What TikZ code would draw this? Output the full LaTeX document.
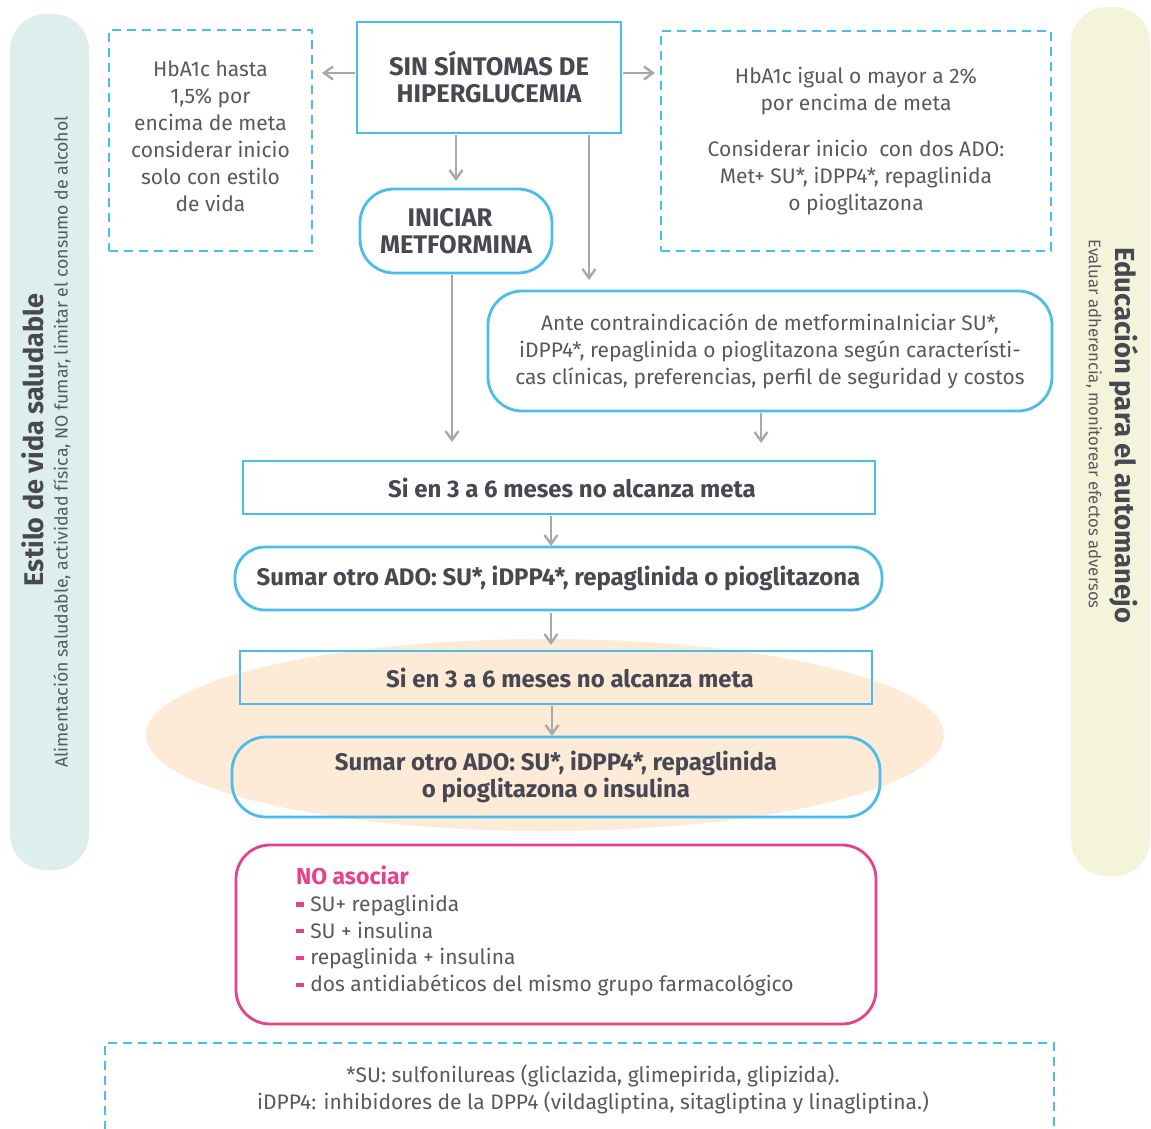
\documentclass[tikz,border=0pt]{standalone}
\usepackage{fontspec}
\setmainfont{Fira Sans}
\usetikzlibrary{arrows.meta,calc}
\definecolor{blu}{HTML}{4BBDEB}
\definecolor{gry}{HTML}{A8A8A8}
\definecolor{teal}{HTML}{DDEEEC}
\definecolor{yel}{HTML}{F4F4DA}
\definecolor{peach}{HTML}{FDEAD7}
\definecolor{pnk}{HTML}{E8418B}
\definecolor{txt}{HTML}{58585F}
\definecolor{txtd}{HTML}{484853}
\begin{document}
\begin{tikzpicture}[x=1pt,y=-1pt,
  every node/.style={inner sep=0pt,outer sep=0pt},
  solidbox/.style={draw=blu,line width=2.8pt},
  roundbox/.style={draw=blu,line width=2.8pt,rounded corners=34pt},
  dashbox/.style={draw=blu,line width=2.6pt,dash pattern=on 9pt off 6pt},
  arr/.style={draw=gry,line width=2.4pt,-{Straight Barb[length=9pt,width=13pt,line width=2.4pt]}},
  body/.style={font=\fontsize{21}{27}\selectfont,text=txt,align=center},
  head/.style={font=\bfseries\fontsize{24}{27}\selectfont,text=txtd,align=center},
  bighead/.style={font=\bfseries\fontsize{25.5}{27}\selectfont,text=txtd,align=center},
  bar/.style={rounded corners=36pt,minimum width=79pt}
]
\useasboundingbox (0,0) rectangle (1151,1129);
% side bars
\node[bar,fill=teal,minimum height=856pt] (lbar) at (49.5,442) {};
\node[bar,fill=yel,minimum height=869pt] (rbar) at (1110.5,441.5) {};
\node[rotate=90,font=\bfseries\fontsize{27}{30}\selectfont,text=txtd] (ltitle) at (33,440) {Estilo de vida saludable};
\node[rotate=90,font=\fontsize{17.7}{20}\selectfont,text=txt] (lsub) at (62,442) {Alimentación saludable, actividad física, NO fumar, limitar el consumo de alcohol};
\node[rotate=-90,font=\bfseries\fontsize{27.5}{30}\selectfont,text=txtd] (rtitle) at (1124,435.5) {Educación para el automanejo};
\node[rotate=-90,font=\fontsize{16.7}{20}\selectfont,text=txt] (rsub) at (1094,424) {Evaluar adherencia, monitorear efectos adversos};
% ellipse
\fill[peach] (545,735) ellipse [x radius=399pt,y radius=96pt];
% boxes
\node[solidbox,bighead,minimum width=264pt,minimum height=111pt] (sin) at (489,77.5) {SIN SÍNTOMAS DE\\HIPERGLUCEMIA};
\node[dashbox,minimum width=203pt,minimum height=221pt] (ldash) at (210.5,140.5) {};
\node[body] (ldasht) at (210.5,136) {HbA1c hasta\\1,5\% por\\encima de meta\\considerar inicio\\solo con estilo\\de vida};
\node[dashbox,body,minimum width=390pt,minimum height=220pt] (rdash) at (856,141) {HbA1c igual o mayor a 2\%\\por encima de meta\\[19pt]Considerar inicio\ \ con dos ADO:\\Met+ SU*, iDPP4*, repaglinida\\o pioglitazona};
\node[roundbox,bighead,minimum width=192pt,minimum height=84pt] (ini) at (456,231) {\hspace*{-12pt}INICIAR\\METFORMINA};
\node[roundbox,body,minimum width=564pt,minimum height=120pt] (contra) at (770,351) {Ante contraindicación de metforminaIniciar SU*,\\iDPP4*, repaglinida o pioglitazona según característi-\\cas clínicas, preferencias, perfil de seguridad y costos};
\node[solidbox,minimum width=632pt,minimum height=53pt] (si1) at (559,487.5) {};
\node[head] (si1t) at (572,488) {Si en 3 a 6 meses no alcanza meta};
\node[roundbox,rounded corners=30pt,head,minimum width=647pt,minimum height=63pt] (sum1) at (558.5,578.5) {Sumar otro ADO: SU*, iDPP4*, repaglinida o pioglitazona};
\node[solidbox,minimum width=632pt,minimum height=53pt] (si2) at (556,677.5) {};
\node[head] (si2t) at (570,677.5) {Si en 3 a 6 meses no alcanza meta};
\node[roundbox,head,minimum width=648pt,minimum height=80pt] (sum2) at (556,777) {Sumar otro ADO: SU*, iDPP4*, repaglinida\\o pioglitazona o insulina};
\node[draw=pnk,line width=2.8pt,rounded corners=34pt,minimum width=640pt,minimum height=179pt] (noas) at (556,934.5) {};
\newcommand{\pdash}{{\color{pnk}\rule[0.22em]{0.38em}{0.21em}}\hspace{0.3em}}
\node[anchor=west,font=\fontsize{21}{26.8}\selectfont,text=txt,align=left] (noast) at (296,931) {{\bfseries\fontsize{23}{26.8}\selectfont\color{pnk}NO asociar}\\\pdash SU+ repaglinida\\\pdash SU + insulina\\\pdash repaglinida + insulina\\\pdash dos antidiabéticos del mismo grupo farmacológico};
\draw[dashbox] (105,1160) |- (1054,1043) -- (1054,1160);
\node[body] (foot) at (593,1089) {*SU: sulfonilureas (gliclazida, glimepirida, glipizida).\\iDPP4: inhibidores de la DPP4 (vildagliptina, sitagliptina y linagliptina.)};
% arrows
\draw[arr,shorten <=2pt,shorten >=10pt] ([yshift=4.5pt]sin.west) -- ([yshift=4.5pt]sin.west -| ldash.east);
\draw[arr,shorten <=2pt,shorten >=6pt] ([yshift=4.5pt]sin.east) -- ([yshift=4.5pt]sin.east -| rdash.west);
\draw[arr,shorten <=2pt,shorten >=8pt] (ini.north |- sin.south) -- (ini.north);
\draw[arr,shorten <=2pt,shorten >=11pt] ([xshift=100pt]sin.south) -- ([xshift=100pt]sin.south |- contra.north);
\draw[arr,shorten <=2pt,shorten >=19pt] ([xshift=-4pt]ini.south) -- ([xshift=-4pt]ini.south |- si1.north);
\draw[arr,shorten <=2pt,shorten >=18pt] ([xshift=-9pt]contra.south) -- ([xshift=-9pt]contra.south |- si1.north);
\draw[arr,shorten <=2pt,shorten >=1pt] ([xshift=-8pt]si1.south) -- ([xshift=-8pt]si1.south |- sum1.north);
\draw[arr,shorten <=3pt,shorten >=6pt] ([xshift=-7.5pt]sum1.south) -- ([xshift=-7.5pt]sum1.south |- si2.north);
\draw[arr,shorten <=2pt,shorten >=1pt] ([xshift=-4pt]si2.south) -- ([xshift=-4pt]si2.south |- sum2.north);
\end{tikzpicture}
\end{document}
